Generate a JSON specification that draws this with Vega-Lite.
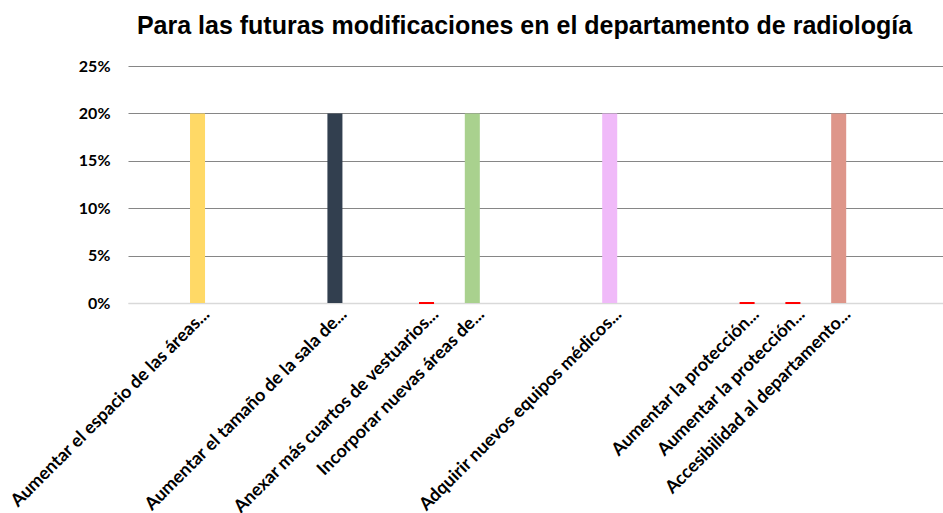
{
  "$schema": "https://vega.github.io/schema/vega-lite/v6.json",
  "width": 815,
  "height": 237,
  "autosize": {"type": "none"},
  "padding": {"left": 128, "top": 66, "right": 0, "bottom": 210},
  "background": "white",
  "title": {
    "text": "Para las futuras modificaciones en el departamento de radiología",
    "font": "Liberation Sans",
    "fontSize": 25,
    "fontWeight": "bold",
    "color": "#000000",
    "anchor": "middle",
    "frame": "group",
    "dx": -11,
    "offset": 19
  },
  "data": {
    "values": [
      {"opcion": "Aumentar el espacio de las áreas...", "valor": 0.2},
      {"opcion": "Aumentar el tamaño de la sala de...", "valor": 0.2},
      {"opcion": "Anexar más cuartos de vestuarios...", "valor": 0},
      {"opcion": "Incorporar nuevas áreas de...", "valor": 0.2},
      {"opcion": "Adquirir nuevos equipos médicos...", "valor": 0.2},
      {"opcion": "Aumentar la protección...", "valor": 0},
      {"opcion": " Aumentar la protección...", "valor": 0},
      {"opcion": "Accesibilidad al departamento...", "valor": 0.2}
    ]
  },
  "mark": {"type": "bar"},
  "encoding": {
    "x": {
      "field": "opcion",
      "type": "nominal",
      "sort": null,
      "scale": {
        "domain": [" ", "Aumentar el espacio de las áreas...", "  ", "   ", "Aumentar el tamaño de la sala de...", "    ", "Anexar más cuartos de vestuarios...", "Incorporar nuevas áreas de...", "     ", "      ", "Adquirir nuevos equipos médicos...", "       ", "        ", "Aumentar la protección...", " Aumentar la protección...", "Accesibilidad al departamento...", "         ", "          "],
        "paddingInner": 0.672,
        "paddingOuter": 0.234,
        "align": 0.757
      },
      "axis": {
        "title": null,
        "labelAngle": -45,
        "labelFont": "Lato",
        "labelFontSize": 18,
        "labelFontWeight": "bold",
        "labelColor": "#000000",
        "labelOverlap": false,
        "labelLimit": 400,
        "ticks": false,
        "domainColor": "#d9d9d9",
        "domainWidth": 1.5,
        "labelPadding": 2,
        "labelOffset": 3
      }
    },
    "y": {
      "field": "valor",
      "type": "quantitative",
      "scale": {"domain": [0, 0.25]},
      "axis": {
        "title": null,
        "values": [0, 0.05, 0.1, 0.15, 0.2, 0.25],
        "format": ".0%",
        "labelFont": "Lato",
        "labelFontSize": 16,
        "labelFontWeight": "bold",
        "labelColor": "#000000",
        "domain": false,
        "ticks": false,
        "labelPadding": 18,
        "gridColor": {"condition": {"test": "datum.value === 0", "value": "#d9d9d9"}, "value": "#868686"},
        "gridWidth": 1.2
      }
    },
    "color": {
      "field": "opcion",
      "type": "nominal",
      "scale": {
        "domain": ["Aumentar el espacio de las áreas...", "Aumentar el tamaño de la sala de...", "Anexar más cuartos de vestuarios...", "Incorporar nuevas áreas de...", "Adquirir nuevos equipos médicos...", "Aumentar la protección...", " Aumentar la protección...", "Accesibilidad al departamento..."],
        "range": ["#FFD966", "#323F4F", "#FF0000", "#A9D18E", "#F0BAF9", "#FF0000", "#FF0000", "#DE968A"]
      },
      "legend": null
    },
    "stroke": {
      "field": "opcion",
      "type": "nominal",
      "scale": {
        "domain": ["Aumentar el espacio de las áreas...", "Aumentar el tamaño de la sala de...", "Anexar más cuartos de vestuarios...", "Incorporar nuevas áreas de...", "Adquirir nuevos equipos médicos...", "Aumentar la protección...", " Aumentar la protección...", "Accesibilidad al departamento..."],
        "range": ["#FFD966", "#323F4F", "#FF0000", "#A9D18E", "#F0BAF9", "#FF0000", "#FF0000", "#DE968A"]
      },
      "legend": null
    },
    "strokeWidth": {"condition": {"test": "datum.valor === 0", "value": 2}, "value": 0}
  },
  "config": {"view": {"stroke": null}}
}
